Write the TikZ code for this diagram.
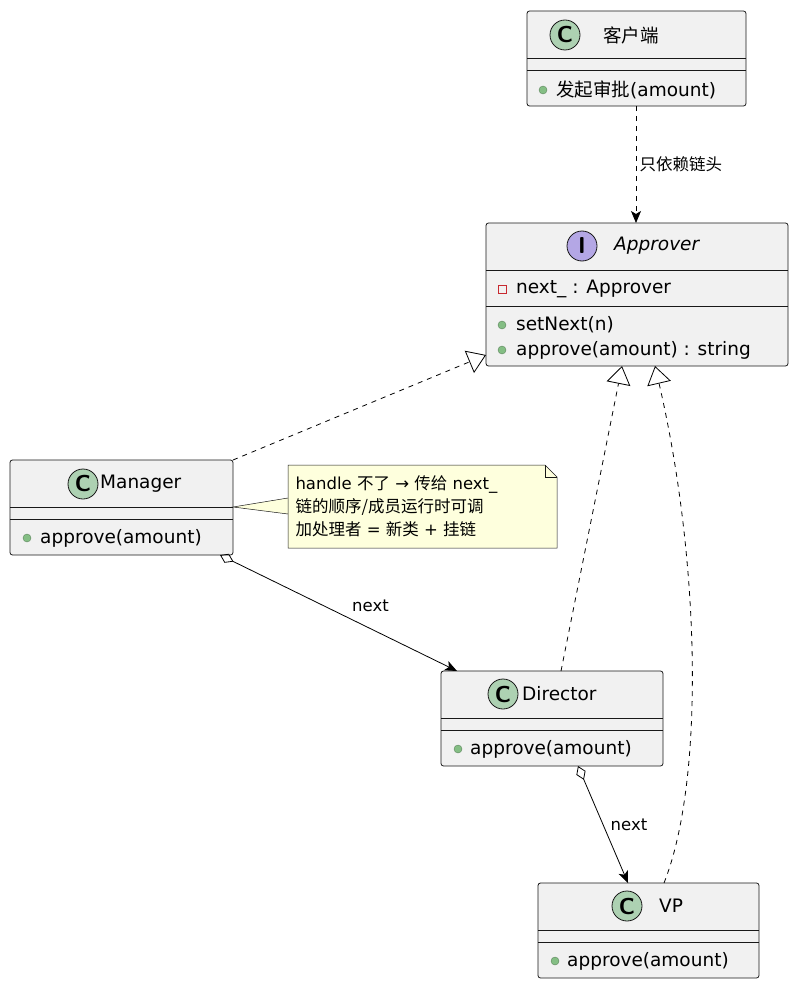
\documentclass[tikz,border=0pt]{standalone}
\usepackage{fontspec}
\setmainfont{DejaVu Sans}
\newfontfamily\cjk{Noto Sans CJK SC}
\usetikzlibrary{arrows.meta,positioning}
\definecolor{boxfill}{HTML}{F1F1F1}
\definecolor{boxline}{HTML}{181818}
\definecolor{cbadge}{HTML}{ADD1B2}
\definecolor{ibadge}{HTML}{B4A7E5}
\definecolor{pubdot}{HTML}{84BE84}
\definecolor{privsq}{HTML}{C82930}
\definecolor{notefill}{HTML}{FEFFDD}
\tikzset{
  classbox/.style={draw=boxline,fill=boxfill,rounded corners=2.5pt,line width=0.8pt,inner sep=0pt},
  badge/.style={draw=boxline,circle,line width=0.8pt,minimum size=30pt,inner sep=0pt,font=\fontsize{23}{23}\sffamily\bfseries},
  cname/.style={anchor=west,inner sep=0pt,font=\fontsize{18.5}{20}\selectfont},
  member/.style={anchor=west,inner sep=0pt,font=\fontsize{18.5}{20}\selectfont},
  pub/.style={circle,draw=pubdot!70!black,fill=pubdot,minimum size=8pt,inner sep=0pt},
  priv/.style={draw=privsq,minimum size=8pt,inner sep=0pt},
  lbl/.style={font=\fontsize{16.5}{19}\selectfont},
  dep/.style={dashed,line width=0.8pt,-{Stealth[length=12pt,width=10pt,inset=3pt]}},
  real/.style={dashed,line width=0.8pt,-{Triangle[open,length=18pt,width=24pt]},dash pattern=on 5pt off 5pt},
  agg/.style={line width=0.8pt,{Diamond[open,length=15pt,width=10pt]}-{Stealth[length=12pt,width=10pt,inset=3pt]}}
}
\begin{document}
\begin{tikzpicture}[x=1pt,y=-1pt]
\useasboundingbox (0,0) rectangle (797,987);
% client
\draw[classbox] (527,11) rectangle (746,106);
\draw[boxline,line width=0.8pt] (527,58) -- (746,58) (527,70) -- (746,70);
\node[badge,fill=cbadge] (bc) at (565,35) {C};
\node[cname,font=\fontsize{18.5}{20}\cjk] (nc) at (603,35) {客户端};
\node[pub] (pc) at (543,90) {};
\node[member] (mc) at (556,90) {{\cjk 发起审批}(amount)};
\coordinate (cb) at (636,106);
% approver
\draw[classbox] (486,223) rectangle (788,366);
\draw[boxline,line width=0.8pt] (486,270) -- (788,270) (486,306) -- (788,306);
\node[badge,fill=ibadge] (ba) at (582,246) {I};
\node[cname,font=\fontsize{18.5}{20}\itshape] (na) at (614,246) {Approver};
\node[priv] (pa) at (502,289) {};
\node[member] (ma1) at (516,289) {next\_ : Approver};
\node[pub] (pa2) at (502,325) {};
\node[member] (ma2) at (516,325) {setNext(n)};
\node[pub] (pa3) at (502,350) {};
\node[member] (ma3) at (516,350) {approve(amount) : string};
\coordinate (at) at (636,223);
\coordinate (al) at (486,355);
\coordinate (ad) at (622,366);
\coordinate (av) at (655,366);
% manager
\draw[classbox] (10,460) rectangle (233,555);
\draw[boxline,line width=0.8pt] (10,507) -- (233,507) (10,519) -- (233,519);
\node[badge,fill=cbadge] (bm) at (83,484) {C};
\node[cname] (nm) at (100,484) {Manager};
\node[pub] (pm) at (27,538) {};
\node[member] (mm) at (40,538) {approve(amount)};
\coordinate (mt) at (233,460);
\coordinate (mb) at (220,555);
% note
\fill[notefill] (233,507) -- (288,498) -- (288,514) -- cycle;
\draw[boxline,line width=0.5pt] (288,498) -- (233,507) -- (288,514);
\draw[boxline,fill=notefill,line width=0.5pt] (288,465) -- (545,465) -- (557,477) -- (557,548) -- (288,548) -- cycle;
\draw[boxline,line width=0.5pt] (545,465) -- (545,477) -- (557,477);
\node[lbl,anchor=west] (n1) at (292,485) {handle {\cjk 不了} → {\cjk 传给} next\_};
\node[lbl,anchor=west] (n2) at (292,507) {\cjk 链的顺序/成员运行时可调};
\node[lbl,anchor=west] (n3) at (292,529) {{\cjk 加处理者} = {\cjk 新类} + {\cjk 挂链}};
% director
\draw[classbox] (441,671) rectangle (663,766);
\draw[boxline,line width=0.8pt] (441,718) -- (663,718) (441,730) -- (663,730);
\node[badge,fill=cbadge] (bd) at (503,694) {C};
\node[cname] (nd) at (522,694) {Director};
\node[pub] (pd) at (458,749) {};
\node[member] (md) at (470,749) {approve(amount)};
\coordinate (dt) at (561,671);
\coordinate (dl) at (457,671);
\coordinate (db) at (578,766);
% vp
\draw[classbox] (538,883) rectangle (759,978);
\draw[boxline,line width=0.8pt] (538,930) -- (759,930) (538,942) -- (759,942);
\node[badge,fill=cbadge] (bv) at (627,906) {C};
\node[cname] (nv) at (659,906) {VP};
\node[pub] (pv) at (555,961) {};
\node[member] (mv) at (567,961) {approve(amount)};
\coordinate (vt) at (664,883);
\coordinate (vl) at (628,883);
% connectors
\draw[dep,dash pattern=on 5pt off 5pt] (cb) -- node[lbl,right,pos=0.5,font=\fontsize{16.5}{19}\cjk] {只依赖链头} (at);
\draw[real] (mt) -- (al);
\draw[real] (dt) -- (ad);
\draw[real] (vt) .. controls (705,780) and (700,560) .. (av);
\draw[agg] (mb) -- node[lbl,above right=-2pt and 10pt] {next} (dl);
\draw[agg] (db) -- node[lbl,right=4pt] {next} (vl);
\end{tikzpicture}
\end{document}
